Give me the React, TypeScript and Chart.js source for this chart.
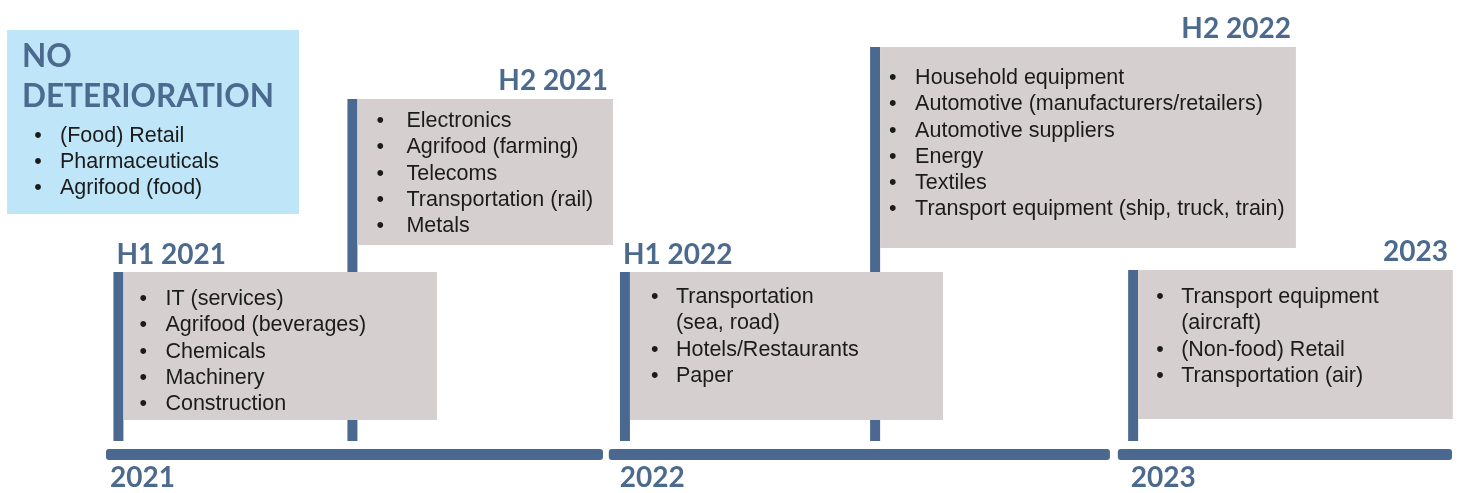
import React, { useEffect, useRef } from "react";
import { Chart, registerables } from "chart.js";

Chart.register(...registerables);

// ---------- data ----------
const years = ["2021", "2022", "2023"];
// timeline segments in months since January 2021
const yearStart = [0, 12.14, 24.43];
const yearEnd = [12, 24.24, 32.5];

const periods = ["H1 2021", "H2 2021", "H1 2022", "H2 2022", "2023"];
// marker position and box end, in months since January 2021
const periodMarker = [0.3, 5.95, 12.53, 18.57, 24.8];
const periodBoxEnd = [7.99, 12.24, 20.21, 28.73, 32.52];
const periodItems = [
  ["IT (services)", "Agrifood (beverages)", "Chemicals", "Machinery", "Construction"],
  ["Electronics", "Agrifood (farming)", "Telecoms", "Transportation (rail)", "Metals"],
  ["Transportation\n(sea, road)", "Hotels/Restaurants", "Paper"],
  [
    "Household equipment",
    "Automotive (manufacturers/retailers)",
    "Automotive suppliers",
    "Energy",
    "Textiles",
    "Transport equipment (ship, truck, train)",
  ],
  ["Transport equipment\n(aircraft)", "(Non-food) Retail", "Transportation (air)"],
];

const noDeteriorationTitle = ["NO", "DETERIORATION"];
const noDeteriorationItems = ["(Food) Retail", "Pharmaceuticals", "Agrifood (food)"];

// ---------- layout / style (pixels) ----------
const boxTop = [272, 99, 272, 47, 270];
const boxBottom = [420, 245, 420, 248, 419];
const firstLine = [299, 121, 297, 78, 297];
const bulletOffset = [21, 24, 26, 14, 23];
const textOffset = [47, 54, 51, 40, 48];
const labelAlign: ("left" | "right")[] = ["left", "right", "left", "right", "right"];
const yearLabelOffset = [4, 11, 13];
const markerBottom = 441;
const markerHalf = 5;
const lineStep = 26.3;
const barY = 454.5;
const barThick = 11;
const yearLabelY = 478;

const BLUE = "#4b6990";
const TITLE = "#4c6a8e";
const GREY = "#d6cfcf";
const LIGHT = "#bee6f8";
const TEXT = "#1b1b1b";
const BODY_FONT = '21.5px "Liberation Sans", Arial, sans-serif';
const TITLE_FONT = 'bold 28px Lato, "Open Sans", sans-serif';

const timelinePlugin = {
  id: "timeline",
  afterDraw(chart: any) {
    const ctx = chart.ctx as CanvasRenderingContext2D;
    const xs = chart.scales.x;
    const ys = chart.scales.y;
    const X = (v: number) => xs.getPixelForValue(v);
    const Y = (v: number) => ys.getPixelForValue(v);
    ctx.save();

    // No deterioration box
    ctx.fillStyle = LIGHT;
    ctx.fillRect(X(-2.39), Y(30), X(4.66) - X(-2.39), Y(214) - Y(30));
    ctx.fillStyle = TITLE;
    ctx.font = 'bold 31.5px Lato, "Open Sans", sans-serif';
    ctx.textBaseline = "alphabetic";
    ctx.textAlign = "left";
    noDeteriorationTitle.forEach((t, i) => ctx.fillText(t, X(-2.03), Y(67 + i * 40)));
    ctx.font = BODY_FONT;
    ctx.textBaseline = "middle";
    noDeteriorationItems.forEach((t, i) => {
      const y = Y(136 + i * 26);
      ctx.fillStyle = TEXT;
      ctx.fillText("•", X(-1.73), y);
      ctx.fillText(t, X(-1.11), y);
    });

    // markers first (boxes of later/earlier periods sit on top of them)
    periods.forEach((_, i) => {
      const mx = X(periodMarker[i]);
      ctx.fillStyle = BLUE;
      ctx.fillRect(mx - markerHalf, Y(boxTop[i]), markerHalf * 2, Y(markerBottom) - Y(boxTop[i]));
    });

    // period boxes, labels and items
    periods.forEach((p, i) => {
      const mx = X(periodMarker[i]);
      const bx = mx + markerHalf;
      const bw = X(periodBoxEnd[i]) - bx;
      ctx.fillStyle = GREY;
      ctx.fillRect(bx, Y(boxTop[i]), bw, Y(boxBottom[i]) - Y(boxTop[i]));
      // label
      ctx.fillStyle = TITLE;
      ctx.font = TITLE_FONT;
      ctx.textBaseline = "alphabetic";
      if (labelAlign[i] === "left") {
        ctx.textAlign = "left";
        ctx.fillText(p, mx - 2, Y(boxTop[i] - 8));
      } else {
        ctx.textAlign = "right";
        ctx.fillText(p, bx + bw - 5, Y(boxTop[i] - 9));
      }
      // items
      ctx.font = BODY_FONT;
      ctx.textAlign = "left";
      ctx.textBaseline = "middle";
      ctx.fillStyle = TEXT;
      let line = 0;
      periodItems[i].forEach((item) => {
        item.split("\n").forEach((part, k) => {
          const y = Y(firstLine[i] + line * lineStep);
          if (k === 0) ctx.fillText("•", mx + bulletOffset[i], y);
          ctx.fillText(part, mx + textOffset[i], y);
          line++;
        });
      });
    });

    // timeline bars and year labels
    years.forEach((yr, i) => {
      const x0 = X(yearStart[i]);
      const x1 = X(yearEnd[i]);
      ctx.fillStyle = BLUE;
      ctx.beginPath();
      (ctx as any).roundRect(x0, Y(barY) - barThick / 2, x1 - x0, barThick, 3);
      ctx.fill();
      ctx.fillStyle = TITLE;
      ctx.font = TITLE_FONT;
      ctx.textAlign = "left";
      ctx.textBaseline = "middle";
      ctx.fillText(yr, x0 + yearLabelOffset[i], Y(yearLabelY));
    });

    ctx.restore();
  },
};

export default function App() {
  const ref = useRef<HTMLCanvasElement>(null);
  useEffect(() => {
    if (!ref.current) return;
    const pxPerMonth = (603 - 106) / 12;
    const chart = new Chart(ref.current, {
      type: "scatter",
      data: { datasets: [{ data: [], pointRadius: 0 }] },
      options: {
        animation: false,
        responsive: true,
        maintainAspectRatio: false,
        devicePixelRatio: 1,
        layout: { padding: 0 },
        plugins: { legend: { display: false }, tooltip: { enabled: false } },
        scales: {
          x: { type: "linear", display: false, min: -106 / pxPerMonth, max: (1468 - 106) / pxPerMonth },
          y: { type: "linear", display: false, min: 0, max: 493, reverse: true },
        },
      },
      plugins: [timelinePlugin],
    });
    return () => chart.destroy();
  }, []);
  return (
    <div style={{ position: "absolute", left: 0, top: 0, width: 1468, height: 493, background: "#fff" }}>
      <canvas ref={ref} />
    </div>
  );
}
